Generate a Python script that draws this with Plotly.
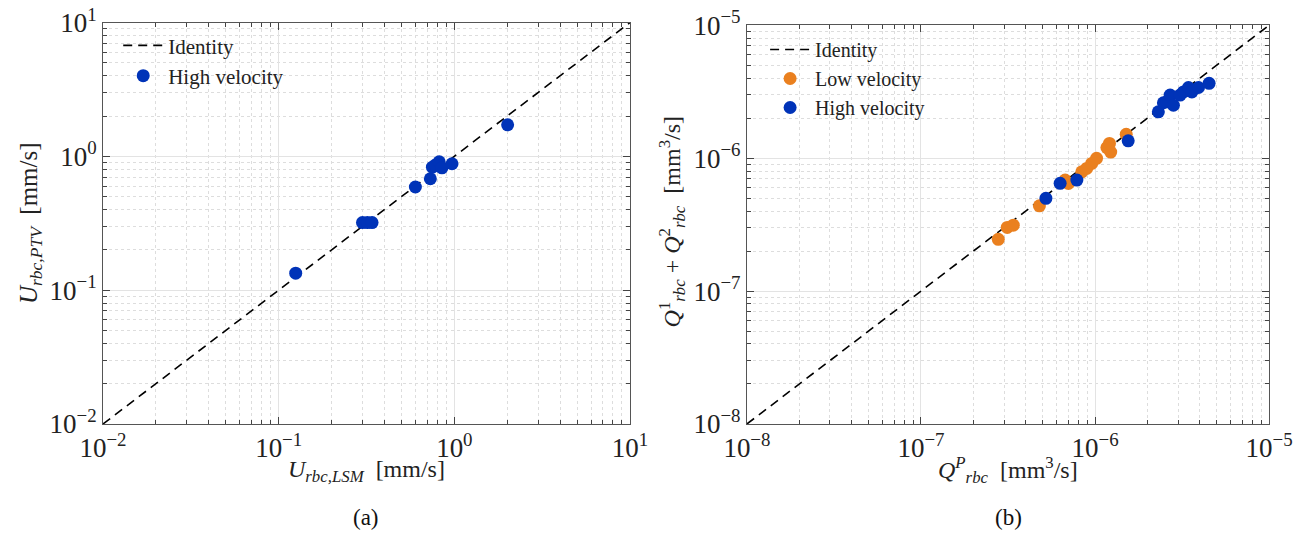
import plotly.graph_objects as go

# Panel (a)
u_lsm = [0.125, 0.30, 0.32, 0.34, 0.60, 0.73, 0.75, 0.78, 0.82, 0.85, 0.97, 2.01]
u_ptv = [0.134, 0.32, 0.32, 0.32, 0.59, 0.68, 0.83, 0.86, 0.91, 0.82, 0.88, 1.72]

# Panel (b)
qp_low = [2.78e-7, 3.13e-7, 3.39e-7, 4.79e-7, 6.73e-7, 7.03e-7, 8.39e-7, 8.95e-7,
          9.57e-7, 1.02e-6, 1.17e-6, 1.21e-6, 1.23e-6, 1.51e-6]
qs_low = [2.45e-7, 3.01e-7, 3.13e-7, 4.38e-7, 6.84e-7, 6.45e-7, 7.88e-7, 8.36e-7,
          9.12e-7, 9.96e-7, 1.20e-6, 1.29e-6, 1.11e-6, 1.51e-6]
qp_high = [5.22e-7, 6.30e-7, 7.86e-7, 1.55e-6, 2.31e-6, 2.47e-6, 2.58e-6, 2.70e-6,
           2.82e-6, 3.08e-6, 3.22e-6, 3.44e-6, 3.60e-6, 3.93e-6, 4.52e-6]
qs_high = [4.98e-7, 6.46e-7, 6.84e-7, 1.35e-6, 2.23e-6, 2.61e-6, 2.65e-6, 2.98e-6,
           2.50e-6, 2.98e-6, 3.15e-6, 3.40e-6, 3.15e-6, 3.40e-6, 3.65e-6]

id_a = [1e-2, 1e1]
id_b = [1e-8, 1e-5]
ticks_a = [1e-2, 1e-1, 1e0, 1e1]
ticktext_a = ["10<sup>−2</sup>", "10<sup>−1</sup>", "10<sup>0</sup>", "10<sup>1</sup>"]
ticks_b = [1e-8, 1e-7, 1e-6, 1e-5]
ticktext_b = ["10<sup>−8</sup>", "10<sup>−7</sup>", "10<sup>−6</sup>", "10<sup>−5</sup>"]

BLUE = "#0033B8"
ORANGE = "#EA801F"
FONT = "Liberation Serif, DejaVu Serif, serif"
DASH = "9px,6px"

fig = go.Figure()
fig.add_trace(go.Scatter(x=id_a, y=id_a, mode="lines", name="Identity",
                         line=dict(color="black", dash=DASH, width=1.6),
                         xaxis="x", yaxis="y", legend="legend"))
fig.add_trace(go.Scatter(x=u_lsm, y=u_ptv, mode="markers", name="High velocity",
                         marker=dict(color=BLUE, size=13),
                         xaxis="x", yaxis="y", legend="legend"))
fig.add_trace(go.Scatter(x=id_b, y=id_b, mode="lines", name="Identity",
                         line=dict(color="black", dash=DASH, width=1.6),
                         xaxis="x2", yaxis="y2", legend="legend2"))
fig.add_trace(go.Scatter(x=qp_low, y=qs_low, mode="markers", name="Low velocity",
                         marker=dict(color=ORANGE, size=13),
                         xaxis="x2", yaxis="y2", legend="legend2"))
fig.add_trace(go.Scatter(x=qp_high, y=qs_high, mode="markers", name="High velocity",
                         marker=dict(color=BLUE, size=13),
                         xaxis="x2", yaxis="y2", legend="legend2"))

def ax(rng, tv, tt, domain, anchor, title, standoff):
    d = dict(type="log", range=rng, domain=domain, anchor=anchor,
             automargin=False,
             tickvals=tv, ticktext=tt, ticks="inside", ticklen=7,
             tickcolor="#444", mirror="allticks", showline=True,
             linecolor="#555", linewidth=1, showgrid=True,
             gridcolor="#E3E3E3", gridwidth=1, zeroline=False,
             tickfont=dict(family=FONT, size=27, color="#222"),
             minor=dict(dtick="D1", ticks="inside", ticklen=4, tickcolor="#444",
                        showgrid=True, gridcolor="#DDDDDD", griddash="dot", gridwidth=1))
    if title:
        d["title"] = dict(text=title, font=dict(family=FONT, size=25, color="#222"),
                          standoff=standoff)
    return d

TF = dict(family=FONT, size=24, color="#222")

fig.update_layout(
    width=1299, height=536,
    margin=dict(l=0, r=0, t=0, b=0, autoexpand=False),
    paper_bgcolor="white", plot_bgcolor="white",
    font=dict(family=FONT, color="#222"),
    xaxis=ax([-2, 1], ticks_a, ticktext_a, [0.0793, 0.485], "y", None, 0),
    yaxis=ax([-2, 1], ticks_a, ticktext_a, [0.209, 0.958], "x",
             "<i>U</i><sub><i>rbc,PTV</i></sub>  [mm/s]", 4),
    xaxis2=ax([-8, -5], ticks_b, ticktext_b, [0.575, 0.977], "y2", None, 0),
    yaxis2=ax([-8, -5], ticks_b, ticktext_b, [0.209, 0.953], "x2", None, 0),
    legend=dict(x=0.091, y=0.953, xanchor="left", yanchor="top",
                bgcolor="rgba(255,255,255,0)", font=dict(family=FONT, size=21, color="#222"),
                tracegroupgap=0, itemwidth=40),
    legend2=dict(x=0.589, y=0.944, xanchor="left", yanchor="top",
                 bgcolor="rgba(255,255,255,0)", font=dict(family=FONT, size=20, color="#222"),
                 tracegroupgap=0, itemwidth=40),
    annotations=[
        dict(text="<i>U</i><sub><i>rbc,LSM</i></sub>  [mm/s]", x=0.282, y=1 - 471 / 536,
             xref="paper", yref="paper", showarrow=False,
             xanchor="center", yanchor="middle", font=TF),
        dict(text="<i>Q</i><sup><i>P</i></sup><sub><i>rbc</i></sub>  [mm<sup>3</sup>/s]",
             x=0.776, y=1 - 470 / 536, xref="paper", yref="paper", showarrow=False,
             xanchor="center", yanchor="middle", font=TF),
        dict(text="<i>Q</i><sup>1</sup><sub><i>rbc</i></sub> + <i>Q</i><sup>2</sup><sub><i>rbc</i></sub>  [mm<sup>3</sup>/s]",
             x=672 / 1299, y=0.585, xref="paper", yref="paper", showarrow=False,
             textangle=-90, xanchor="center", yanchor="middle", font=TF),
        dict(text="(a)", x=0.282, y=0.034, xref="paper", yref="paper", showarrow=False,
             xanchor="center", yanchor="middle", font=dict(family=FONT, size=23, color="#111")),
        dict(text="(b)", x=0.776, y=0.034, xref="paper", yref="paper", showarrow=False,
             xanchor="center", yanchor="middle", font=dict(family=FONT, size=23, color="#111")),
    ],
)

fig.write_html("out.html")
